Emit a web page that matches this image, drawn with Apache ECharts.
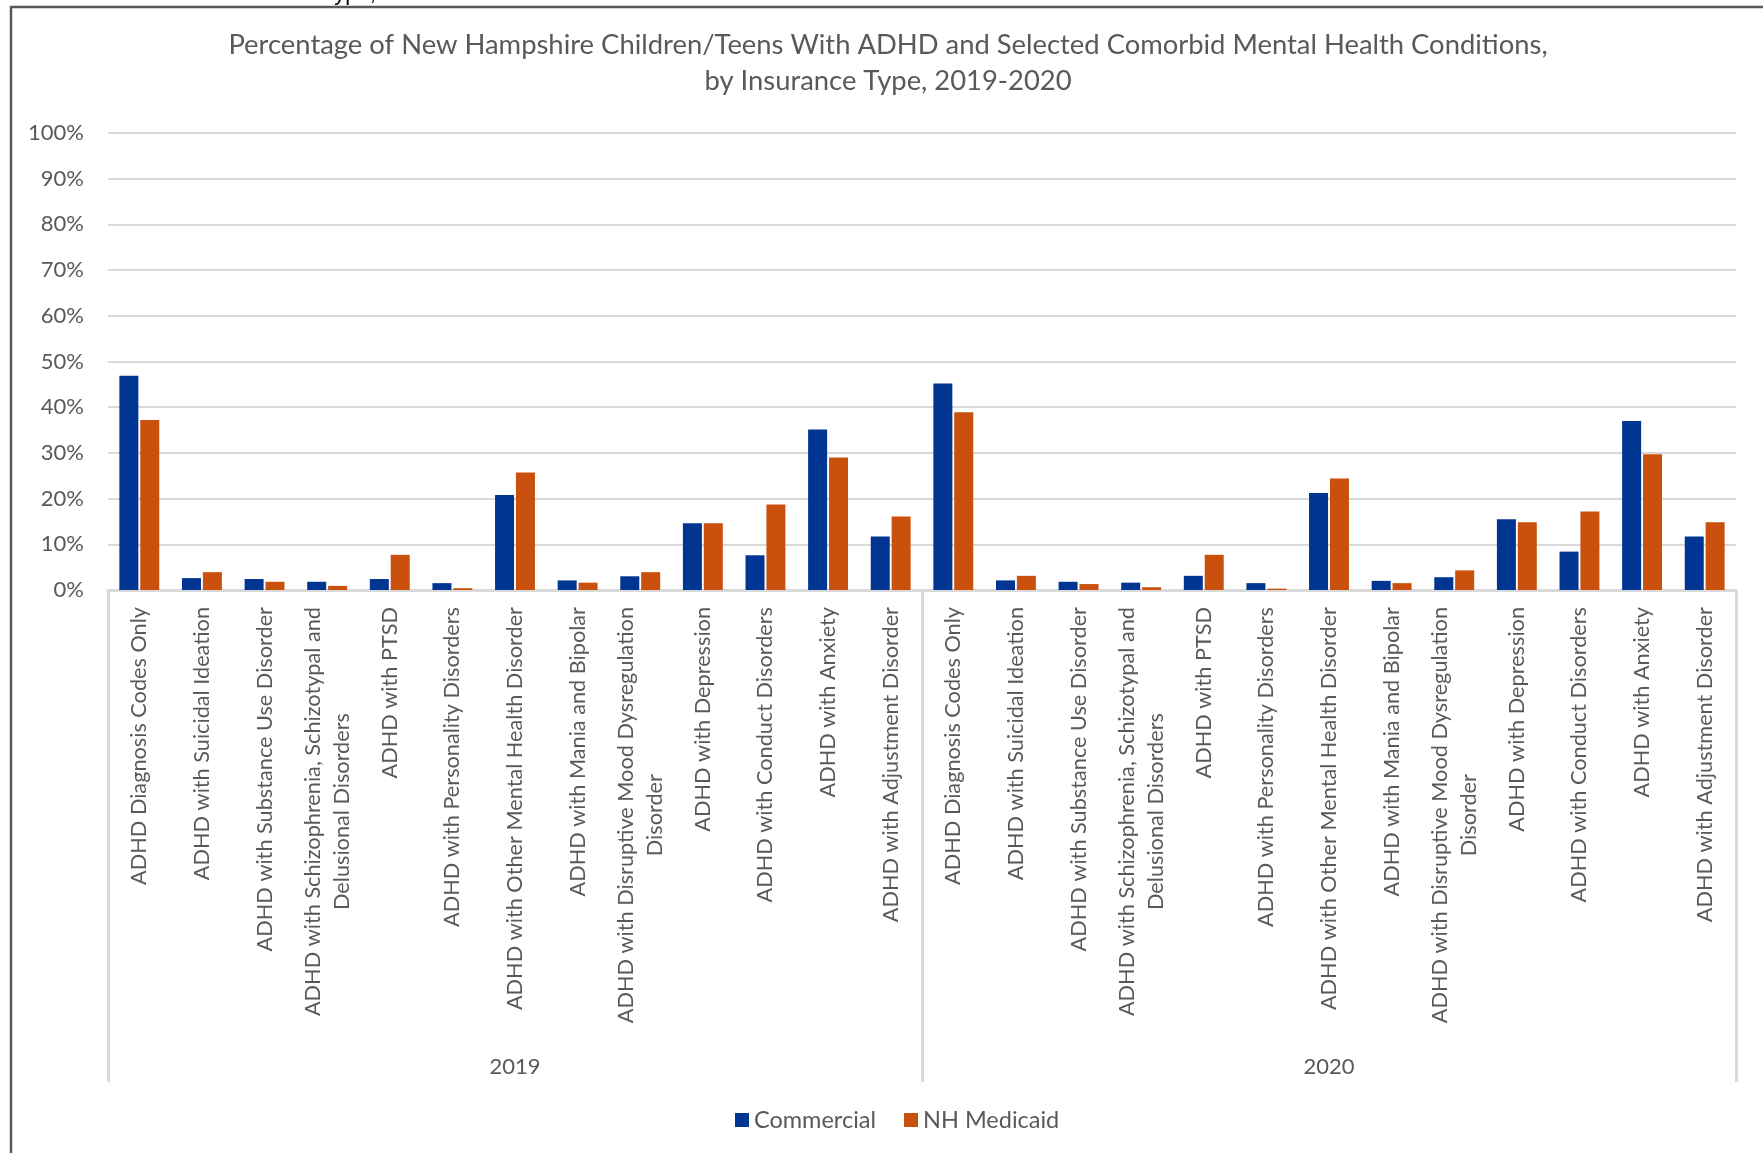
<!DOCTYPE html>
<html>
<head>
<meta charset="utf-8">
<script src="https://cdn.jsdelivr.net/npm/echarts@6/dist/echarts.min.js"></script>
<style>html,body{margin:0;padding:0;background:#fff;}#chart{width:1763px;height:1153px;}</style>
</head>
<body>
<div id="chart"></div>
<script>
const conditions = [
  'ADHD Diagnosis Codes Only',
  'ADHD with Suicidal Ideation',
  'ADHD with Substance Use Disorder',
  'ADHD with Schizophrenia, Schizotypal and\nDelusional Disorders',
  'ADHD with PTSD',
  'ADHD with Personality Disorders',
  'ADHD with Other Mental Health Disorder',
  'ADHD with Mania and Bipolar',
  'ADHD with Disruptive Mood Dysregulation\nDisorder',
  'ADHD with Depression',
  'ADHD with Conduct Disorders',
  'ADHD with Anxiety',
  'ADHD with Adjustment Disorder'
];
const years = ['2019', '2020'];
const commercial2019 = [46.9, 2.6, 2.4, 1.8, 2.4, 1.5, 20.8, 2.1, 3.0, 14.6, 7.6, 35.1, 11.7];
const medicaid2019   = [37.2, 3.9, 1.8, 0.9, 7.7, 0.4, 25.7, 1.6, 3.9, 14.6, 18.7, 29.0, 16.1];
const commercial2020 = [45.2, 2.1, 1.8, 1.6, 3.1, 1.5, 21.2, 2.0, 2.8, 15.5, 8.4, 37.0, 11.7];
const medicaid2020   = [38.9, 3.1, 1.3, 0.6, 7.7, 0.3, 24.4, 1.5, 4.3, 14.8, 17.2, 29.7, 14.8];
const seriesNames = ['Commercial', 'NH Medicaid'];
const yTicks = { min: 0, max: 100, interval: 10 };
const titleText = 'Percentage of New Hampshire Children/Teens With ADHD and Selected Comorbid Mental Health Conditions,\nby Insurance Type, 2019-2020';

const categories = [];
years.forEach(() => conditions.forEach(c => categories.push(c)));
const commercial = commercial2019.concat(commercial2020);
const medicaid = medicaid2019.concat(medicaid2020);

const FONT = 'Lato';
const GRAY = '#595959';
const LIGHT = '#d9d9d9';

const chart = echarts.init(document.getElementById('chart'), null, { renderer: 'canvas' });
chart.setOption({
  backgroundColor: '#ffffff',
  animation: false,
  title: {
    text: titleText,
    left: 883,
    top: 22,
    textAlign: 'center',
    textStyle: { fontFamily: FONT, fontSize: 27.4, fontWeight: 'normal', color: GRAY, lineHeight: 36 }
  },
  legend: {
    data: seriesNames,
    left: 730,
    top: 1103,
    itemWidth: 14,
    itemHeight: 14,
    itemGap: 28,
    icon: 'rect',
    textStyle: { fontFamily: FONT, fontSize: 23.5, color: GRAY }
  },
  grid: { left: 108, right: 27, top: 133, bottom: 563, containLabel: false },
  xAxis: [
    {
      type: 'category',
      data: categories,
      axisLine: { show: true, lineStyle: { color: LIGHT, width: 3 } },
      axisTick: { show: false },
      axisLabel: {
        interval: 0,
        rotate: 90,
        margin: 17,
        color: GRAY,
        fontFamily: FONT,
        fontSize: 21.7,
        formatter: function (v) {
          return v.split('\n').map(s => '{c|' + s + '}').join('\n');
        },
        rich: {
          c: { align: 'center', fontFamily: FONT, fontSize: 21.7, color: GRAY, lineHeight: 29 }
        }
      }
    },
    {
      type: 'category',
      data: years,
      position: 'bottom',
      offset: 492,
      axisLine: { show: false },
      axisTick: { show: true, inside: true, length: 492, lineStyle: { color: LIGHT, width: 3 } },
      axisLabel: { inside: true, margin: 4, color: GRAY, fontFamily: FONT, fontSize: 22 },
      splitLine: { show: false }
    }
  ],
  yAxis: {
    type: 'value',
    min: yTicks.min,
    max: yTicks.max,
    interval: yTicks.interval,
    axisLine: { show: false },
    axisTick: { show: false },
    axisLabel: { formatter: '{value}%', color: GRAY, fontFamily: FONT, fontSize: 22, margin: 24 },
    splitLine: { lineStyle: { color: LIGHT, width: 2 } }
  },
  series: [
    {
      name: seriesNames[0],
      type: 'bar',
      xAxisIndex: 0,
      data: commercial,
      barWidth: 19,
      barGap: '10%',
      itemStyle: { color: '#003591' }
    },
    {
      name: seriesNames[1],
      type: 'bar',
      xAxisIndex: 0,
      data: medicaid,
      barWidth: 19,
      barGap: '10%',
      itemStyle: { color: '#C9500D' }
    }
  ],
  graphic: [
    {
      type: 'polyline',
      shape: { points: [[11, 1153], [11, 7], [1763, 7]] },
      style: { stroke: GRAY, lineWidth: 2.5, fill: null },
      silent: true
    },
    {
      type: 'text',
      left: 322,
      top: -17,
      style: { text: 'Type, 2019-2020', fontFamily: 'Liberation Sans', fontSize: 22, fill: '#000000' },
      silent: true,
      z: -1
    }
  ]
});
</script>
</body>
</html>
